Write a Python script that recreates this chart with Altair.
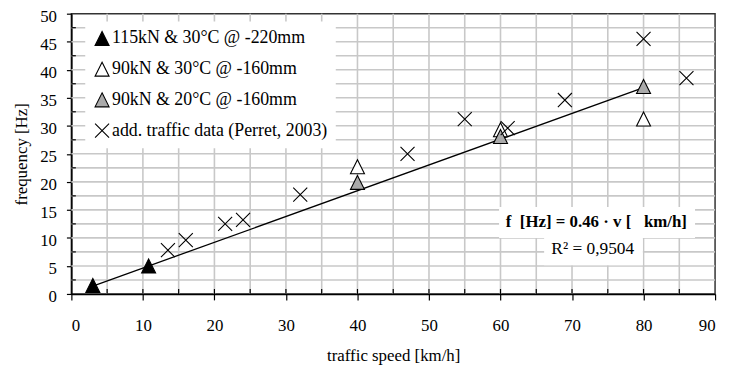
import altair as alt
import pandas as pd

# ---- data ----
series_names = [
    "115kN & 30°C @ -220mm",
    "90kN & 30°C @ -160mm",
    "90kN & 20°C @ -160mm",
    "add. traffic data (Perret, 2003)",
]
black_x = [3.0, 10.8]
black_y = [1.5, 5.0]
white_x = [40, 60, 80]
white_y = [22.7, 29.3, 31.2]
gray_x = [40, 60, 80]
gray_y = [19.9, 28.1, 37.0]
cross_x = [13.5, 16, 21.5, 24, 32, 47, 55, 61, 69, 80, 86]
cross_y = [7.8, 9.6, 12.5, 13.2, 17.7, 25.0, 31.2, 29.6, 34.6, 45.5, 38.5]

trend_x = [3, 80]
trend_y = [1.4, 36.8]

x_major = [0, 10, 20, 30, 40, 50, 60, 70, 80, 90]
x_minor = [5, 15, 25, 35, 45, 55, 65, 75, 85]
y_major = [0, 5, 10, 15, 20, 25, 30, 35, 40, 45, 50]
y_minor = [2.5, 7.5, 12.5, 17.5, 22.5, 27.5, 32.5, 37.5, 42.5, 47.5]
x_grid = [5, 10, 15, 20, 25, 30, 35, 40, 45, 50, 55, 60, 65, 70, 75, 80, 85]
y_grid = [2.5, 5, 7.5, 10, 12.5, 15, 17.5, 20, 22.5, 25, 27.5, 30, 32.5, 35,
          37.5, 40, 42.5, 45, 47.5]

NB = "\u00a0"
eq_text = ["f" + NB + NB + "[Hz] = 0.46 · v [" + NB + NB + NB + "km/h]"]
r2_text = ["R² = 0,9504"]

FONT = "Liberation Serif"

rows = []
for xs_, ys_, name in [(black_x, black_y, series_names[0]),
                       (white_x, white_y, series_names[1]),
                       (gray_x, gray_y, series_names[2]),
                       (cross_x, cross_y, series_names[3])]:
    for a, b in zip(xs_, ys_):
        rows.append({"x": a, "y": b, "series": name})
pts = pd.DataFrame(rows)

xs = alt.Scale(domain=[0, 90], nice=False, zero=False)
ys = alt.Scale(domain=[0, 50], nice=False, zero=False)

GRID = "#c8c8c8"

xaxis = alt.Axis(values=x_major, title="traffic speed [km/h]",
                 grid=False, tickSize=6, labelPadding=18, titlePadding=14,
                 labelFont=FONT, labelFontSize=17, titleFont=FONT,
                 titleFontSize=17, titleFontWeight="normal",
                 labelColor="black", titleColor="black")
yaxis = alt.Axis(values=y_major, title="frequency [Hz]",
                 grid=False, tickSize=5, labelPadding=10, titlePadding=9,
                 labelOffset=3,
                 labelFont=FONT, labelFontSize=17, titleFont=FONT,
                 titleFontSize=17, titleFontWeight="normal",
                 labelColor="black", titleColor="black")


def X(field):
    return alt.X(field, scale=xs, axis=xaxis)


def Y(field):
    return alt.Y(field, scale=ys, axis=yaxis)


xgrid = alt.Chart(pd.DataFrame({"x": x_grid})).mark_rule(
    color=GRID, strokeWidth=1.6).encode(x=X("x:Q"))
ygrid = alt.Chart(pd.DataFrame({"y": y_grid})).mark_rule(
    color=GRID, strokeWidth=1.6).encode(y=Y("y:Q"))

# inward tick marks
xin = alt.Chart(pd.DataFrame({"x": x_major[1:-1] + x_minor})).mark_rule(
    color="black", strokeWidth=1.2).encode(
    x=X("x:Q"), y=alt.value(283), y2=alt.value(278))
yin = alt.Chart(pd.DataFrame({"y": y_minor})).mark_rule(
    color="black", strokeWidth=1.2).encode(
    y=Y("y:Q"), x=alt.value(0), x2=alt.value(4.5))

# white boxes behind the equation
box_df = pd.DataFrame({"x1": [59.8, 66.1], "x2": [87.2, 79.9],
                       "y1": [15.5, 10.0], "y2": [10.0, 5.1]})
boxes = alt.Chart(box_df).mark_rect(color="white").encode(
    x=X("x1:Q"), x2="x2:Q", y=Y("y1:Q"), y2="y2:Q")

trend = alt.Chart(pd.DataFrame({"x": trend_x, "y": trend_y})).mark_line(
    color="black", strokeWidth=1.3).encode(x=X("x:Q"), y=Y("y:Q"))

TRI = "M0,-1L1,1L-1,1Z"
CROSS = "M-1,-1L1,1M-1,1L1,-1"

points = alt.Chart(pts).mark_point(size=200, strokeWidth=1.1, opacity=1,
                                   filled=False).encode(
    x=X("x:Q"),
    y=Y("y:Q"),
    shape=alt.Shape("series:N",
                    scale=alt.Scale(domain=series_names,
                                    range=[TRI, TRI, TRI, CROSS]),
                    legend=alt.Legend(title=None)),
    fill=alt.Fill("series:N",
                  scale=alt.Scale(domain=series_names,
                                  range=["black", "white", "#aaaaaa",
                                         "transparent"]),
                  legend=alt.Legend(title=None)),
    stroke=alt.Stroke("series:N",
                      scale=alt.Scale(domain=series_names,
                                      range=["black", "black", "black",
                                             "black"]),
                      legend=alt.Legend(title=None)),
    order=alt.Order("order:Q"),
).transform_calculate(order="indexof(%s, datum.series)" % str(series_names))

eq = alt.Chart(pd.DataFrame({"x": [73.4], "y": [12.9], "t": eq_text})).mark_text(
    font=FONT, fontSize=17, fontWeight="bold", color="black").encode(
    x=X("x:Q"), y=Y("y:Q"), text="t:N")
r2 = alt.Chart(pd.DataFrame({"x": [72.9], "y": [8.0], "t": r2_text})).mark_text(
    font=FONT, fontSize=17.5, color="black").encode(
    x=X("x:Q"), y=Y("y:Q"), text="t:N")

chart = alt.layer(xgrid, ygrid, xin, yin, boxes, trend, points, eq, r2).properties(
    width=650, height=283,
    autosize=alt.AutoSizeParams(type="none"),
    padding={"left": 64, "top": 4, "right": 7, "bottom": 70},
    background="white",
).configure(font=FONT).configure_view(
    stroke="#333333", strokeWidth=1.5
).configure_axis(
    domainColor="black", domainWidth=1.5, tickColor="black", tickWidth=1.2,
).configure_legend(
    orient="none", legendX=14, legendY=8,
    fillColor="white", padding=8, labelFont=FONT, labelFontSize=18,
    labelColor="black", symbolSize=200, symbolStrokeColor="black",
    symbolStrokeWidth=1.1, rowPadding=11, labelOffset=1, symbolOpacity=1,
    labelLimit=400,
)

chart.save("out.html", embed_options={"renderer": "svg", "actions": False})
